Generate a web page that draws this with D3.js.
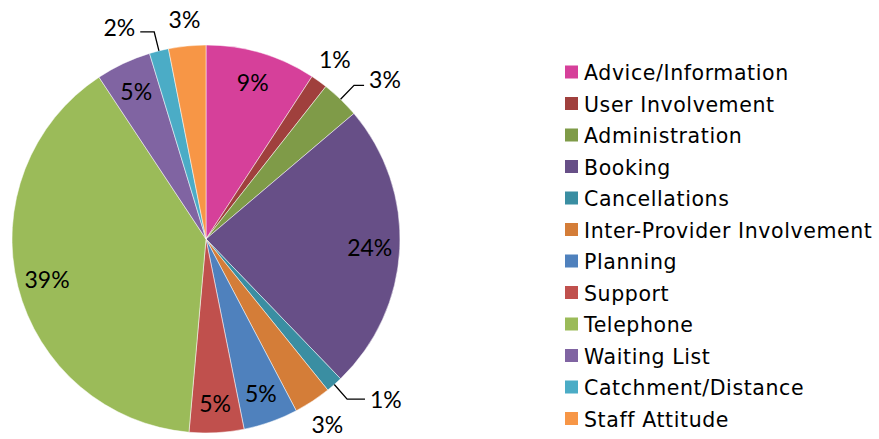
<!DOCTYPE html>
<html>
<head>
<meta charset="utf-8">
<script src="https://cdn.jsdelivr.net/npm/d3@7"></script>
<style>
  body { margin: 0; background: #fff; }
  svg { display: block; }
</style>
</head>
<body>
<div id="chart"></div>
<script>
// categories in drawing order (clockwise from 12 o'clock)
var categories = [
  "Advice/Information", "User Involvement", "Administration", "Booking",
  "Cancellations", "Inter-Provider Involvement", "Planning", "Support",
  "Telephone", "Waiting List", "Catchment/Distance", "Staff Attitude"
];
// share of complaints, percent
var shares = [9.2, 1.4, 3.2, 24.0, 1.4, 3.1, 4.55, 4.55, 39.3, 4.6, 1.6, 3.1];
var colors = [
  "#D6409A", "#A0403D", "#7F9B48", "#674F87", "#3A8EA2", "#D47D38",
  "#4F81BD", "#C0504D", "#9BBB59", "#8064A2", "#4BACC6", "#F79646"
];

// label placement (everything not listed sits inside its slice)
var labelPlacement = {
  "User Involvement": {mode: "out"},
  "Inter-Provider Involvement": {mode: "out"},
  "Staff Attitude": {mode: "out"},
  "Administration": {mode: "leader", shift: 4.3, r: 1.237},
  "Cancellations": {mode: "leader", shift: -7, r: 1.24},
  "Catchment/Distance": {mode: "leader", shift: -8.2, r: 1.18}
};

var width = 879, height = 439;
var cx = 206, cy = 239, radius = 194;

var svg = d3.select("#chart").append("svg")
  .attr("width", width)
  .attr("height", height);

var data = categories.map(function (c, i) {
  return {name: c, value: shares[i], color: colors[i]};
});
var total = d3.sum(shares);

var pie = d3.pie().sort(null).value(function (d) { return d.value; });
var arcs = pie(data);
var arc = d3.arc().innerRadius(0).outerRadius(radius);

var g = svg.append("g").attr("transform", "translate(" + cx + "," + cy + ")");

g.selectAll("path.slice")
  .data(arcs)
  .enter().append("path")
  .attr("class", "slice")
  .attr("d", arc)
  .attr("fill", function (d) { return d.data.color; })
  .attr("stroke", "#fff")
  .attr("stroke-width", 0.5);

// polar helper: angle in radians from 12 o'clock, clockwise
function polar(a, r) {
  return [Math.sin(a) * r, -Math.cos(a) * r];
}

var labelFont = "Lato, 'Open Sans', sans-serif";

arcs.forEach(function (d) {
  var mid = (d.startAngle + d.endAngle) / 2;
  var txt = Math.round(d.data.value / total * 100) + "%";
  var place = labelPlacement[d.data.name] || {mode: "in"};
  var pos;
  if (place.mode === "in") {
    pos = polar(mid, radius * 0.845);
  } else if (place.mode === "out") {
    pos = polar(mid, radius * 1.14);
  } else {
    pos = polar(mid + place.shift * Math.PI / 180, radius * place.r);
  }
  var t = g.append("text")
    .attr("x", pos[0])
    .attr("y", pos[1])
    .attr("text-anchor", "middle")
    .attr("dominant-baseline", "central")
    .style("font-family", labelFont)
    .style("font-size", "23px")
    .attr("fill", "#000")
    .text(txt);

  if (place.mode === "leader") {
    var bb = t.node().getBBox();
    var p0 = polar(mid, radius);
    var p1 = polar(mid, radius * 1.1);
    var xEnd = p1[0] < bb.x ? bb.x - 5 : bb.x + bb.width + 5;
    g.append("polyline")
      .attr("points", [p0, p1, [xEnd, p1[1]]].map(function (p) { return p.join(","); }).join(" "))
      .attr("fill", "none")
      .attr("stroke", "#000")
      .attr("stroke-width", 1.3);
  }
});

// legend
var legendX = 565, legendY = 72, rowH = 31.5;
var legend = svg.append("g").attr("transform", "translate(" + legendX + "," + legendY + ")");
var rows = legend.selectAll("g.row")
  .data(data)
  .enter().append("g")
  .attr("class", "row")
  .attr("transform", function (d, i) { return "translate(0," + (i * rowH) + ")"; });

rows.append("rect")
  .attr("x", 0)
  .attr("y", -6.5)
  .attr("width", 13)
  .attr("height", 13)
  .attr("fill", function (d) { return d.color; });

rows.append("text")
  .attr("x", 19)
  .attr("y", 1)
  .attr("dominant-baseline", "central")
  .style("font-family", "'DejaVu Sans', sans-serif")
  .style("font-size", "20.5px")
  .style("letter-spacing", "0.6px")
  .attr("fill", "#000")
  .text(function (d) { return d.name; });
</script>
</body>
</html>
